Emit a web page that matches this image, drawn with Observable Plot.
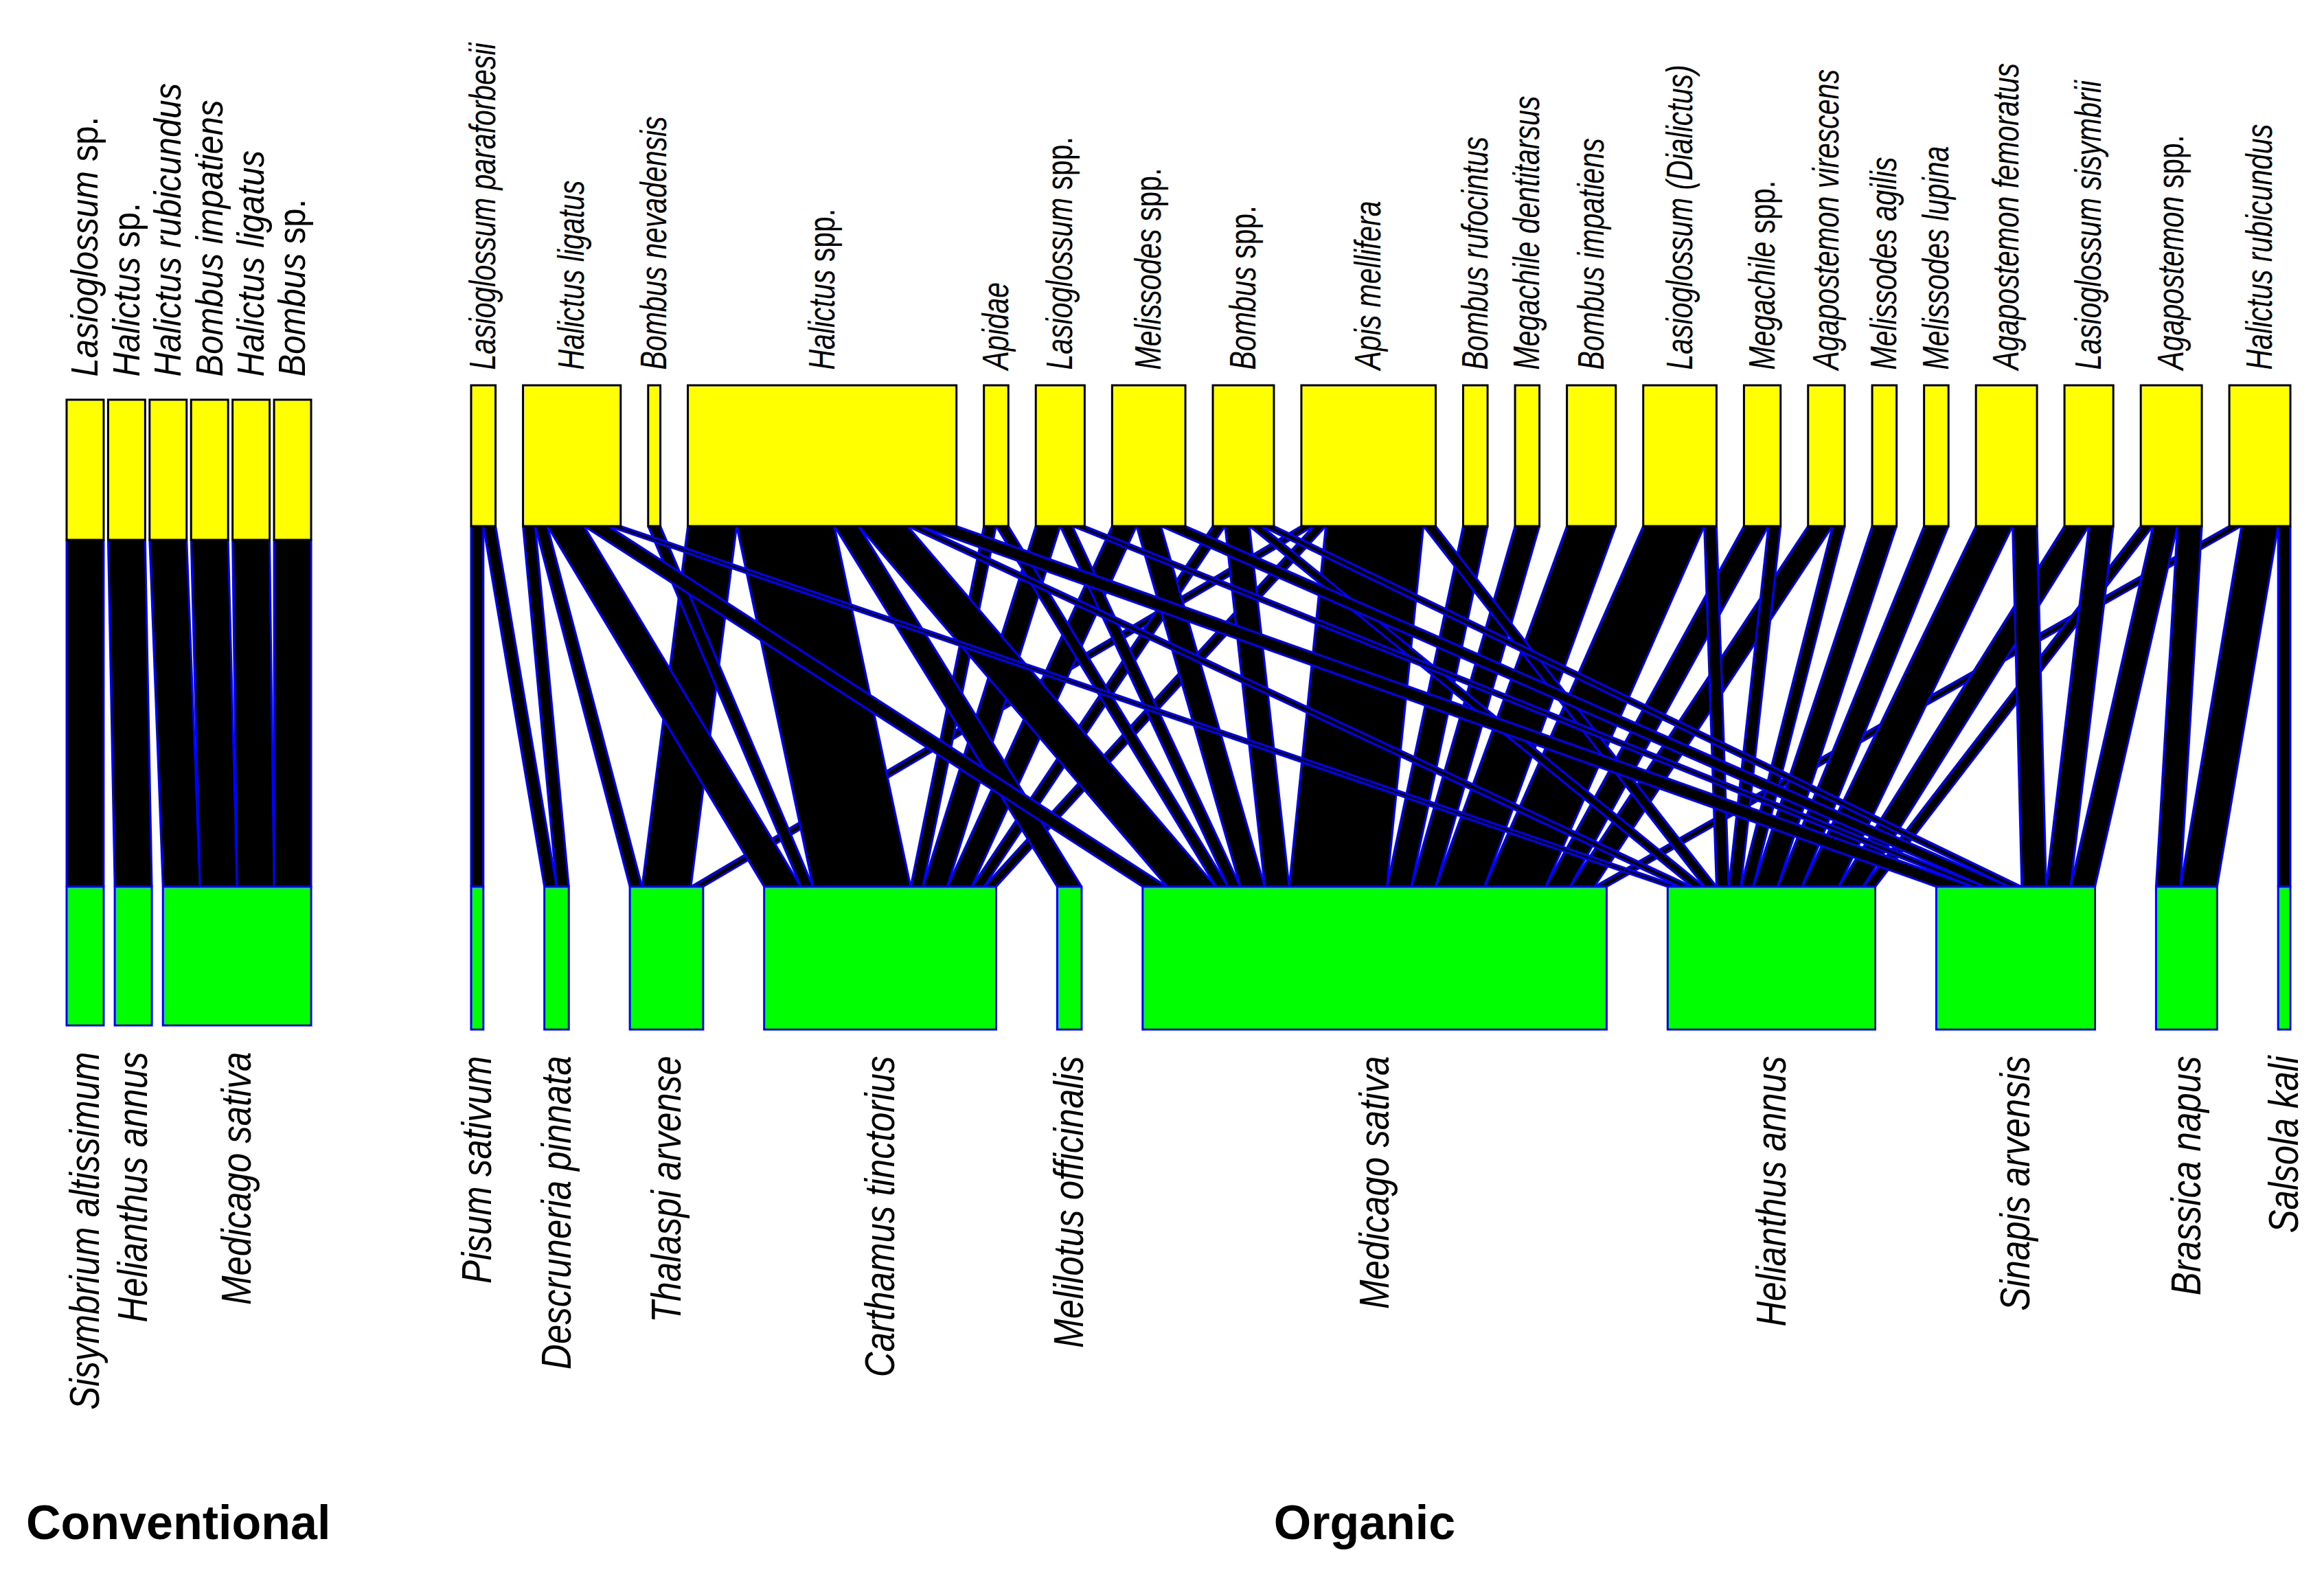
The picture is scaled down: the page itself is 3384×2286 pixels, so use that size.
<!DOCTYPE html>
<html><head><meta charset="utf-8">
<script src="https://cdn.jsdelivr.net/npm/d3@7"></script>
<script src="https://cdn.jsdelivr.net/npm/@observablehq/plot@0.6"></script>
<style>
html,body{margin:0;padding:0;background:#fff;}
#wrap{position:relative;width:3384px;height:2286px;overflow:hidden;background:#fff;}
#wrap svg{position:absolute;left:0;top:0;}
.title{position:absolute;font-family:"Liberation Sans",Arial,sans-serif;font-weight:bold;font-size:70px;line-height:70px;color:#000;white-space:nowrap;}
</style></head><body>
<div id="wrap">
  <div class="title" style="left:38px;top:2182px;">Conventional</div>
  <div class="title" style="left:1987px;top:2182px;transform:translateX(-50%);">Organic</div>
</div>
<script>
// ---------------- DATA ----------------
const convPollinators = ["Lasioglossum sp.", "Halictus sp.", "Halictus rubicundus", "Bombus impatiens", "Halictus ligatus", "Bombus sp."];
const convPlants = ["Sisymbrium altissimum", "Helianthus annus", "Medicago sativa"];
const convLinks = [
  ["Lasioglossum sp.", "Sisymbrium altissimum", 1],
  ["Halictus sp.", "Helianthus annus", 1],
  ["Halictus rubicundus", "Medicago sativa", 1],
  ["Bombus impatiens", "Medicago sativa", 1],
  ["Halictus ligatus", "Medicago sativa", 1],
  ["Bombus sp.", "Medicago sativa", 1]
];

const orgPollinators = ["Lasioglossum paraforbesii", "Halictus ligatus", "Bombus nevadensis", "Halictus spp.", "Apidae",
  "Lasioglossum spp.", "Melissodes spp.", "Bombus spp.", "Apis mellifera", "Bombus rufocintus", "Megachile dentitarsus",
  "Bombus impatiens", "Lasioglossum (Dialictus)", "Megachile spp.", "Agapostemon virescens", "Melissodes agilis",
  "Melissodes lupina", "Agapostemon femoratus", "Lasioglossum sisymbrii", "Agapostemon spp.", "Halictus rubicundus"];
const orgPlants = ["Pisum sativum", "Descruneria pinnata", "Thalaspi arvense", "Carthamus tinctorius", "Melilotus officinalis",
  "Medicago sativa", "Helianthus annus", "Sinapis arvensis", "Brassica napus", "Salsola kali"];
const orgLinks = [
  ["Lasioglossum paraforbesii", "Pisum sativum", 1],
  ["Lasioglossum paraforbesii", "Descruneria pinnata", 1],
  ["Halictus ligatus", "Descruneria pinnata", 1],
  ["Halictus ligatus", "Thalaspi arvense", 1],
  ["Halictus ligatus", "Carthamus tinctorius", 3],
  ["Halictus ligatus", "Medicago sativa", 2],
  ["Halictus ligatus", "Helianthus annus", 1],
  ["Bombus nevadensis", "Carthamus tinctorius", 1],
  ["Halictus spp.", "Thalaspi arvense", 4],
  ["Halictus spp.", "Carthamus tinctorius", 8],
  ["Halictus spp.", "Melilotus officinalis", 2],
  ["Halictus spp.", "Medicago sativa", 4],
  ["Halictus spp.", "Helianthus annus", 1],
  ["Halictus spp.", "Sinapis arvensis", 3],
  ["Apidae", "Carthamus tinctorius", 1],
  ["Apidae", "Medicago sativa", 1],
  ["Lasioglossum spp.", "Carthamus tinctorius", 2],
  ["Lasioglossum spp.", "Medicago sativa", 1],
  ["Lasioglossum spp.", "Sinapis arvensis", 1],
  ["Melissodes spp.", "Carthamus tinctorius", 2],
  ["Melissodes spp.", "Medicago sativa", 2],
  ["Melissodes spp.", "Sinapis arvensis", 2],
  ["Bombus spp.", "Carthamus tinctorius", 1],
  ["Bombus spp.", "Medicago sativa", 2],
  ["Bombus spp.", "Helianthus annus", 1],
  ["Bombus spp.", "Sinapis arvensis", 1],
  ["Apis mellifera", "Thalaspi arvense", 1],
  ["Apis mellifera", "Carthamus tinctorius", 1],
  ["Apis mellifera", "Medicago sativa", 8],
  ["Apis mellifera", "Helianthus annus", 1],
  ["Bombus rufocintus", "Medicago sativa", 2],
  ["Megachile dentitarsus", "Medicago sativa", 2],
  ["Bombus impatiens", "Medicago sativa", 4],
  ["Lasioglossum (Dialictus)", "Medicago sativa", 5],
  ["Lasioglossum (Dialictus)", "Helianthus annus", 1],
  ["Megachile spp.", "Medicago sativa", 2],
  ["Megachile spp.", "Helianthus annus", 1],
  ["Agapostemon virescens", "Medicago sativa", 2],
  ["Agapostemon virescens", "Helianthus annus", 1],
  ["Melissodes agilis", "Helianthus annus", 2],
  ["Melissodes lupina", "Helianthus annus", 2],
  ["Agapostemon femoratus", "Helianthus annus", 3],
  ["Agapostemon femoratus", "Sinapis arvensis", 2],
  ["Lasioglossum sisymbrii", "Helianthus annus", 2],
  ["Lasioglossum sisymbrii", "Sinapis arvensis", 2],
  ["Agapostemon spp.", "Helianthus annus", 1],
  ["Agapostemon spp.", "Sinapis arvensis", 2],
  ["Agapostemon spp.", "Brassica napus", 2],
  ["Halictus rubicundus", "Medicago sativa", 1],
  ["Halictus rubicundus", "Brassica napus", 3],
  ["Halictus rubicundus", "Salsola kali", 1]
];

// ---------------- LAYOUT (bipartite web) ----------------
function web(pollinators, plants, links, spaceFrac, yHiLow, yLoHigh) {
  const total = d3.sum(links, d => d[2]);
  const W = total * (1 + spaceFrac);
  const pIdx = new Map(pollinators.map((p, i) => [p, i]));
  const qIdx = new Map(plants.map((p, i) => [p, i]));
  const hiTot = d3.rollup(links, v => d3.sum(v, d => d[2]), d => d[0]);
  const loTot = d3.rollup(links, v => d3.sum(v, d => d[2]), d => d[1]);
  const gapHi = (W - total) / (pollinators.length - 1);
  const gapLo = (W - total) / (plants.length - 1);
  let x = 0;
  const hi = pollinators.map(p => { const b = {name: p, x1: x, x2: x + hiTot.get(p), y1: yHiLow, y2: 1}; x = b.x2 + gapHi; return b; });
  x = 0;
  const lo = plants.map(p => { const b = {name: p, x1: x, x2: x + loTot.get(p), y1: 0, y2: yLoHigh}; x = b.x2 + gapLo; return b; });
  const hiCur = new Map(hi.map(b => [b.name, b.x1]));
  const loCur = new Map(lo.map(b => [b.name, b.x1]));
  const L = links.map((l, i) => ({id: i, hi: l[0], lo: l[1], v: l[2]}));
  [...L].sort((a, b) => pIdx.get(a.hi) - pIdx.get(b.hi) || qIdx.get(a.lo) - qIdx.get(b.lo)).forEach(l => {
    l.t1 = hiCur.get(l.hi); l.t2 = l.t1 + l.v; hiCur.set(l.hi, l.t2);
  });
  [...L].sort((a, b) => qIdx.get(a.lo) - qIdx.get(b.lo) || pIdx.get(a.hi) - pIdx.get(b.hi)).forEach(l => {
    l.b1 = loCur.get(l.lo); l.b2 = l.b1 + l.v; loCur.set(l.lo, l.b2);
  });
  const drawOrder = [...L].sort((a, b) => qIdx.get(a.lo) - qIdx.get(b.lo) || pIdx.get(a.hi) - pIdx.get(b.hi));
  const rows = drawOrder.flatMap(l => [
    {id: l.id, y: yHiLow, x1: l.t1, x2: l.t2},
    {id: l.id, y: yLoHigh, x1: l.b1, x2: l.b2}
  ]);
  return {W, hi, lo, rows};
}

const FONT = "'Liberation Sans',Arial,sans-serif";

function panel(w, opt) {
  return Plot.plot({
    width: 3384, height: 2286,
    marginLeft: opt.left, marginRight: 3384 - opt.right,
    marginTop: opt.top, marginBottom: 2286 - opt.bottom,
    x: {domain: [0, w.W], axis: null},
    y: {domain: [0, 1], axis: null},
    style: {background: "transparent", maxWidth: "none", overflow: "visible"},
    marks: [
      Plot.area(w.rows, {x1: "x1", x2: "x2", y1: "y", z: "id", fill: "black", stroke: "#0000ff", strokeWidth: 3, strokeLinejoin: "miter"}),
      Plot.rect(w.hi, {x1: "x1", x2: "x2", y1: "y1", y2: "y2", fill: "#ffff00", stroke: "black", strokeWidth: 3, inset: 0}),
      Plot.rect(w.lo, {x1: "x1", x2: "x2", y1: "y1", y2: "y2", fill: "#00ff00", stroke: "#0000ff", strokeWidth: 3, inset: 0}),
      Plot.text(w.hi, {x: d => (d.x1 + d.x2) / 2, y: "y2", text: "name", rotate: -90, textAnchor: "start",
        dy: opt.topDy, fontSize: opt.topSize, fontStyle: "italic", fontFamily: FONT, fill: "black"}),
      Plot.text(w.lo, {x: d => (d.x1 + d.x2) / 2, y: "y1", text: "name", rotate: -90, textAnchor: "end",
        dy: opt.botDy, fontSize: opt.botSize, fontStyle: "italic", fontFamily: FONT, fill: "black"})
    ]
  });
}

// genus names italic, "sp."/"spp." upright
function uprightSp(svg) {
  svg.querySelectorAll("text").forEach(t => {
    const target = t.querySelector("tspan") || t;
    const s = target.textContent;
    const m = s.match(/^(.*\S)\s+(spp?\.)$/);
    if (!m) return;
    target.textContent = m[1] + " ";
    const ts = document.createElementNS("http://www.w3.org/2000/svg", "tspan");
    ts.setAttribute("font-style", "normal");
    ts.textContent = m[2];
    target.appendChild(ts);
  });
}

// tall, narrow lettering like the original figure: stretch glyph height
function tall(svg, kTop, kBot) {
  const st = (t, k) => {
    const tr = t.getAttribute("transform") || "";
    t.setAttribute("transform", tr + ` scale(1,${k})`);
  };
  svg.querySelectorAll('g[text-anchor="start"] text').forEach(t => st(t, kTop));
  svg.querySelectorAll('g[text-anchor="end"] text').forEach(t => st(t, kBot));
}

const convWeb = web(convPollinators, convPlants, convLinks, 0.1, 0.776, 0.2217);
const orgWeb = web(orgPollinators, orgPlants, orgLinks, 0.4327, 0.7814, 0.2217);

const wrap = document.getElementById("wrap");
const s1 = panel(convWeb, {left: 97, right: 453, top: 582, bottom: 1493, topDy: -34, botDy: 38, topSize: 49, botSize: 51});
const s2 = panel(orgWeb, {left: 686, right: 3335, top: 561, bottom: 1499, topDy: -23, botDy: 38, topSize: 41, botSize: 51});
uprightSp(s1); uprightSp(s2);
tall(s1, 1.14, 1.2);
tall(s2, 1.3, 1.2);
wrap.appendChild(s1);
wrap.appendChild(s2);
</script>
</body></html>
